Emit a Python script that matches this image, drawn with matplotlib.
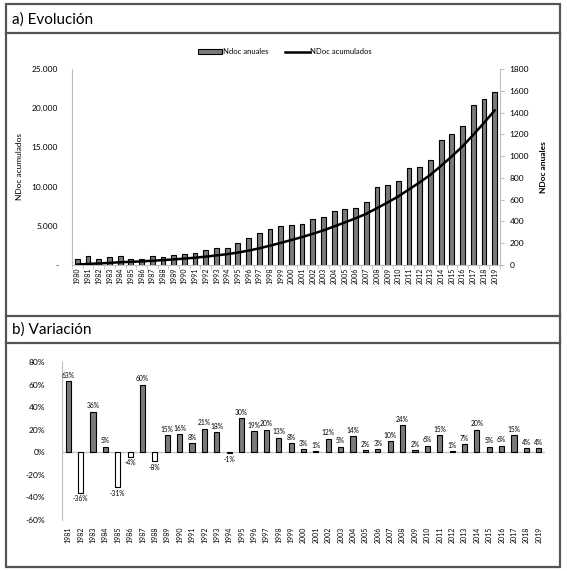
import numpy as np
import matplotlib
matplotlib.use("Agg")
import matplotlib.pyplot as plt
from matplotlib.lines import Line2D
from matplotlib.patches import Patch
from matplotlib.ticker import FuncFormatter

plt.rcParams['font.family'] = ['Lato', 'DejaVu Sans']

# data
years = list(range(1980, 2020))
ndoc_anuales = [53, 87, 56, 76, 80, 55, 53, 85, 78, 90,
                104, 112, 136, 160, 158, 206, 245, 294, 332, 358,
                369, 373, 418, 439, 500, 510, 525, 578, 717, 731,
                776, 892, 900, 960, 1150, 1206, 1275, 1466, 1525, 1586]
ndoc_acumulados = np.cumsum(ndoc_anuales)

var_years = list(range(1981, 2020))
variacion = [63, -36, 36, 5, -31, -4, 60, -8, 15, 16,
             8, 21, 18, -1, 30, 19, 20, 13, 8, 3,
             1, 12, 5, 14, 2, 3, 10, 24, 2, 6,
             15, 1, 7, 20, 5, 6, 15, 4, 4]

W, H = 567, 571
fig = plt.figure(figsize=(W / 100, H / 100), dpi=100)

def rect(l, t, r, b):
    return [l / W, 1 - b / H, (r - l) / W, (b - t) / H]

def hline(y, x0=6, x1=560, lw=1.6):
    fig.add_artist(Line2D([x0 / W, x1 / W], [1 - y / H, 1 - y / H], color='#555555', lw=lw))

# frame and headers
fig.add_artist(plt.Rectangle((6 / W, 1 - 567 / H), 554 / W, 563 / H, fill=False,
                             edgecolor='#555555', lw=1.6, transform=fig.transFigure))
hline(32.5)
hline(315.5)
hline(343)
fig.text(12 / W, 1 - 19.5 / H, 'a) Evolución', fontsize=11, va='center', ha='left')
fig.text(12 / W, 1 - 330 / H, 'b) Variación', fontsize=11, va='center', ha='left')

grey = '#bfbfbf'
bar_col = '#7a7a7a'

# ---- a) Evolución
x = np.arange(len(years))
axb = fig.add_axes(rect(72, 69, 500, 265))
axl = axb.twinx()  # twinx resets tick side, so configure afterwards

axb.bar(x, ndoc_anuales, width=0.45, color=bar_col, edgecolor='black', linewidth=0.8, zorder=2)
axb.set_xlim(-0.5, len(years) - 0.5)
axb.set_ylim(0, 1800)
axb.set_yticks(range(0, 1801, 200))
axb.yaxis.tick_right()
axb.yaxis.set_label_position('right')
axb.set_ylabel('NDoc anuales', fontsize=6, fontweight='bold', labelpad=8)
axb.set_xticks(x)
axb.set_xticklabels([str(y) for y in years], rotation=90, fontsize=5)
axb.set_xticks(np.arange(-0.5, len(years)), minor=True)
axb.tick_params(axis='x', which='major', length=0, pad=2)
axb.tick_params(axis='x', which='minor', length=3, color=grey)
axb.tick_params(axis='y', labelsize=6, length=3, color=grey, pad=4)
for s in ['top', 'left', 'right']:
    axb.spines[s].set_visible(False)
axb.spines['bottom'].set_color(grey)

axl.plot(x, ndoc_acumulados, color='black', lw=1.8, zorder=3)
axl.set_ylim(0, 25000)
axl.set_yticks(range(0, 25001, 5000))
axl.yaxis.tick_left()
axl.yaxis.set_label_position('left')
axl.yaxis.set_major_formatter(FuncFormatter(lambda v, p: '-' if v == 0 else f'{int(v):,}'.replace(',', '.')))
axl.tick_params(axis='y', labelsize=6, length=0, pad=10)
axl.set_ylabel('NDoc acumulados', fontsize=6, labelpad=6)
for s in ['top', 'bottom']:
    axl.spines[s].set_visible(False)
axl.spines['left'].set_color(grey)
axl.spines['right'].set_color(grey)

handles = [Patch(facecolor=bar_col, edgecolor='black', linewidth=0.8),
           Line2D([], [], color='black', lw=1.8)]
fig.legend(handles, ['Ndoc anuales', 'NDoc acumulados'], loc='center',
           bbox_to_anchor=(285 / W, 1 - 52 / H), ncol=2, frameon=False, fontsize=5.5,
           handlelength=3.2, handleheight=0.6, handletextpad=0.1, columnspacing=2.2)

# ---- b) Variación
xv = np.arange(len(var_years))
axv = fig.add_axes(rect(62, 362, 545, 520))
colors = [bar_col if v >= 0 else 'white' for v in variacion]
axv.bar(xv, variacion, width=0.42, color=colors, edgecolor='black', linewidth=0.8, zorder=2)
for xi, v in zip(xv, variacion):
    if v >= 0:
        axv.text(xi, v + 2, f'{v}%', ha='center', va='bottom', fontsize=4.8)
    else:
        axv.text(xi, v - 2, f'{v}%', ha='center', va='top', fontsize=4.8)
axv.axhline(0, color=grey, lw=0.9, zorder=1)
axv.set_xlim(-0.5, len(var_years) - 0.5)
axv.set_ylim(-60, 80)
axv.set_yticks(range(-60, 81, 20))
axv.set_yticklabels([f'{t}%' for t in range(-60, 81, 20)])
axv.set_xticks(xv)
axv.set_xticklabels([str(y) for y in var_years], rotation=90, fontsize=5)
axv.tick_params(axis='x', length=0, pad=5)
axv.tick_params(axis='y', labelsize=6, length=0, pad=12)
for s in ['top', 'right', 'bottom']:
    axv.spines[s].set_visible(False)
axv.spines['left'].set_color(grey)

fig.savefig('out.png', dpi=100)
